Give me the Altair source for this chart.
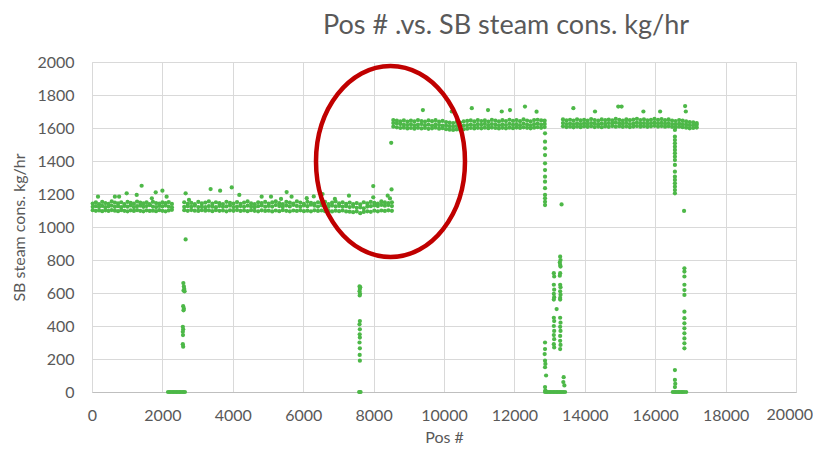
import altair as alt
import pandas as pd

# ---- data (pos #, steam kg/hr) ----
# band rows: (pos, lower dot, upper dot, top fringe dot)
band1 = [(20,1102,1122,1142),(110,1098,1126,1150),(200,1100,1121,1138),(290,1096,1128,1152),
         (380,1101,1120,1145),(470,1097,1125,1140),(560,1103,1130,1155),(650,1099,1122,1148),
         (740,1096,1126,1143),(830,1102,1120,1150),(920,1098,1128,1139),(1010,1095,1123,1152),
         (1100,1101,1131,1146),(1190,1097,1121,1141),(1280,1102,1126,1154),(1370,1098,1129,1147),
         (1460,1095,1122,1143),(1550,1101,1127,1150),(1640,1097,1132,1138),(1730,1099,1124,1153),
         (1820,1096,1121,1145),(1910,1102,1128,1141),(2000,1098,1125,1149),(2090,1095,1130,1144),
         (2180,1100,1123,1151),(2270,1104,1119,1140)]

band2 = [(2620,1102,1122,1150),(2720,1098,1126,1140),(2820,1103,1122,1146),(2920,1099,1129,1138),
         (3020,1097,1121,1152),(3120,1102,1124,1143),(3220,1099,1120,1148),(3320,1101,1127,1155),
         (3420,1096,1123,1141),(3520,1102,1120,1150),(3620,1098,1128,1144),(3720,1100,1122,1139),
         (3820,1095,1125,1153),(3920,1101,1130,1146),(4020,1098,1121,1142),(4120,1103,1124,1151),
         (4220,1097,1127,1140),(4320,1100,1122,1148),(4420,1096,1129,1155),(4520,1102,1125,1143),
         (4620,1098,1120,1138),(4720,1095,1126,1150),(4820,1101,1131,1145),(4920,1097,1123,1152),
         (5020,1099,1128,1141),(5120,1094,1124,1149),(5220,1100,1133,1156),(5320,1096,1127,1144),
         (5420,1102,1122,1139),(5520,1098,1130,1152),(5620,1095,1125,1147),(5720,1100,1134,1142),
         (5820,1097,1128,1155),(5920,1101,1123,1148),(6020,1096,1131,1140),(6120,1099,1126,1153),
         (6220,1095,1135,1146),(6320,1101,1129,1141),(6420,1097,1124,1150),(6520,1100,1132,1144),
         (6620,1096,1127,1152),(6720,1098,1122,1139),(6820,1094,1130,1147),(6920,1099,1125,1155),
         (7020,1096,1128,1143),(7120,1100,1123,1150),(7220,1094,1126,1140),(7320,1093,1121,1148),
         (7420,1090,1124,1138),(7520,1094,1116,1145),(7620,1084,1119,1137),(7720,1091,1113,1150),
         (7820,1095,1124,1143),(7920,1092,1126,1152),(8020,1099,1131,1146),(8120,1095,1127,1141),
         (8220,1100,1134,1155),(8320,1097,1129,1149),(8420,1101,1133,1144),(8520,1098,1127,1150)]

band3 = [(8560,1608,1630,1648),(8660,1604,1628,1645),(8760,1600,1624,1640),(8860,1602,1620,1646),
         (8960,1597,1618,1638),(9060,1600,1622,1644),(9160,1596,1616,1640),(9260,1601,1620,1648),
         (9360,1597,1624,1642),(9460,1600,1617,1639),(9560,1595,1620,1646),(9660,1598,1615,1641),
         (9760,1602,1622,1647),(9860,1596,1618,1638),(9960,1599,1614,1643),(10060,1593,1615,1636),
         (10160,1590,1611,1632),(10260,1588,1609,1630),(10360,1591,1612,1637),(10460,1589,1608,1633),
         (10560,1592,1614,1640),(10660,1596,1617,1643),(10760,1600,1621,1646),(10860,1597,1616,1640),
         (10960,1601,1623,1648),(11060,1598,1619,1642),(11160,1602,1625,1646),(11260,1599,1617,1639),
         (11360,1603,1624,1649),(11460,1600,1620,1644),(11560,1597,1616,1640),(11660,1601,1622,1647),
         (11760,1598,1618,1642),(11860,1602,1625,1650),(11960,1599,1619,1643),(12060,1603,1623,1648),
         (12160,1600,1617,1641),(12260,1604,1626,1652),(12360,1601,1620,1645),(12460,1598,1616,1640),
         (12560,1602,1623,1648),(12660,1605,1627,1650),(12760,1601,1621,1646),(12860,1606,1625,1644)]

band4 = [(13380,1610,1630,1652),(13480,1606,1624,1646),(13580,1608,1627,1650),(13680,1604,1622,1644),
         (13780,1609,1628,1653),(13880,1605,1623,1646),(13980,1610,1629,1650),(14080,1607,1625,1645),
         (14180,1611,1630,1654),(14280,1606,1626,1648),(14380,1609,1623,1644),(14480,1605,1628,1652),
         (14580,1610,1625,1647),(14680,1607,1630,1651),(14780,1612,1627,1646),(14880,1608,1632,1655),
         (14980,1611,1629,1650),(15080,1607,1626,1645),(15180,1610,1631,1653),(15280,1606,1624,1647),
         (15380,1609,1628,1651),(15480,1612,1632,1656),(15580,1608,1627,1648),(15680,1611,1630,1653),
         (15780,1607,1625,1646),(15880,1610,1629,1650),(15980,1613,1633,1655),(16080,1609,1628,1649),
         (16180,1612,1631,1654),(16280,1608,1626,1647),(16380,1611,1630,1652),(16480,1607,1624,1645),
         (16580,1604,1622,1642),(16680,1608,1626,1648),(16780,1605,1623,1644),(16880,1602,1620,1640),
         (16980,1598,1617,1636),(17080,1600,1616,1634),(17180,1603,1619,1630)]

outliers_low_band = [(170,1184),(650,1184),(770,1184),(985,1204),(1270,1194),(1410,1250),
                     (1700,1174),(1810,1210),(2000,1220),(2120,1184),(2660,1204),(2755,1164),
                     (3370,1230),(3640,1220),(3970,1240),(4185,1194),(4820,1184),(5085,1184),
                     (5370,1170),(5530,1212),(5670,1184),(6100,1175),(6300,1185),(6550,1200),
                     (6900,1170),(7300,1190),(7990,1248),(7990,1180),(8400,1190),(8510,1228),
                     (8465,1173),(2660,925),(8500,1510)]

outliers_high_band = [(9400,1709),(10220,1700),(10790,1720),(11250,1709),(11640,1700),(11875,1709),
                      (12300,1730),(12630,1699),(13675,1720),(14290,1700),(14950,1730),(15045,1730),
                      (15665,1700),(16140,1700),(16850,1733),(16870,1700)]

drop_2600 = [(2595,660),(2610,640),(2620,625),(2600,615),(2630,610),(2590,520),(2610,505),
             (2600,495),(2580,395),(2590,380),(2580,365),(2585,345),(2580,290),(2590,275)]

drop_7600 = [(7600,640),(7620,635),(7610,625),(7600,610),(7615,595),(7605,585),(7610,430),
             (7600,410),(7610,380),(7605,350),(7610,330),(7600,300),(7610,265),(7605,225),
             (7610,190)]

drop_12900 = [(12870,1568),(12870,1517),(12870,1477),(12870,1436),(12870,1386),(12870,1345),
              (12870,1305),(12870,1275),(12870,1235),(12870,1194),(12870,1174),(12870,1153),
              (12870,1133),(13340,1137),
              (13300,820),(13310,800),(13290,785),(13300,770),(13310,760),(13300,720),(13290,705),
              (13120,720),(13130,700),(13300,650),(13310,635),(13120,650),(13130,620),(13300,610),
              (13120,595),(13310,590),(13300,570),(13130,575),(13120,560),(13300,560),(13200,503),
              (13120,450),(13300,450),(13130,430),(13310,420),(13120,400),(13300,395),(13130,370),
              (13310,370),(13120,345),(13300,340),(13130,320),(13300,310),(13120,290),(13310,285),
              (13130,270),(13300,260),(12870,300),(12870,260),(12860,230),(12870,190),(12880,170),
              (12870,150),(12900,100),(12870,30),(12880,10),(13400,90),(13390,60),(13420,40)]

drop_16600 = [(16560,1588),(16560,1547),(16560,1527),(16560,1507),(16560,1487),(16560,1467),
              (16560,1447),(16560,1426),(16560,1406),(16560,1376),(16560,1335),(16560,1305),
              (16560,1285),(16560,1265),(16560,1244),(16560,1224),(16560,1204),(16820,1097),
              (16830,750),(16830,730),(16830,700),(16830,650),(16830,618),(16830,588),(16830,487),
              (16830,447),(16830,416),(16830,386),(16830,356),(16830,325),(16830,295),(16830,265),
              (16560,133),(16560,73),(16570,50),(16560,30)]

zeros_x = [2160,2200,2240,2280,2320,2360,2400,2440,2480,2520,2560,2600,2640,
           7590,7610,7630,
           12870,12910,12950,12990,13030,13070,13110,13150,13190,13230,13270,13310,13350,13390,13440,
           16500,16540,16580,16620,16660,16700,16740,16780,16820,16880]

x_ticks = [0, 2000, 4000, 6000, 8000, 10000, 12000, 14000, 16000, 18000, 20000]
y_ticks = [0, 200, 400, 600, 800, 1000, 1200, 1400, 1600, 1800, 2000]
edge_label = {"pos": [20000], "text": ["20000"]}

highlight = {"pos": [8480], "steam": [1397]}

# ---- build table ----
rows = []
for x, lo, hi, top in band1 + band2 + band3 + band4:
    rows.append((x, lo))
    rows.append((x, hi))
    rows.append((x, top))
for x, y in outliers_low_band + outliers_high_band + drop_2600 + drop_7600 + drop_12900 + drop_16600:
    rows.append((x, y))
for x in zeros_x:
    rows.append((x, 0))
df = pd.DataFrame(rows, columns=["pos", "steam"])

FONT = "Lato"
TXT = "#595959"

xscale = alt.Scale(domain=[0, 20000], nice=False, zero=False)
yscale = alt.Scale(domain=[0, 2000], nice=False)

xaxis = alt.Axis(values=x_ticks, title="Pos #", format="d", grid=True,
                 gridColor="#D9D9D9", domainColor="#BFBFBF", ticks=False,
                 labelPadding=15, titlePadding=6, labelFontSize=16, titleFontSize=16,
                 labelFont=FONT, titleFont=FONT, labelColor=TXT, titleColor=TXT,
                 titleFontWeight="normal", labelFlush=False, labelOverlap=False,
                 labelExpr="datum.value == 20000 ? '' : datum.label")
yaxis = alt.Axis(values=y_ticks, title="SB steam cons. kg/hr", format="d", grid=True,
                 gridColor="#D9D9D9", domain=False, ticks=False,
                 labelPadding=18, titlePadding=9, labelFontSize=16, titleFontSize=16,
                 labelFont=FONT, titleFont=FONT, labelColor=TXT, titleColor=TXT,
                 titleFontWeight="normal", labelOverlap=False)

points = alt.Chart(df).mark_circle(size=18, color="#4DB848", opacity=1).encode(
    x=alt.X("pos:Q", scale=xscale, axis=xaxis),
    y=alt.Y("steam:Q", scale=yscale, axis=yaxis),
)

ELLIPSE = ("M 0.78,0 C 0.78,0.5523 0.4308,1 0,1 C -0.4308,1 -0.78,0.5523 -0.78,0 "
           "C -0.78,-0.5523 -0.4308,-1 0,-1 C 0.4308,-1 0.78,-0.5523 0.78,0 Z")

ring = alt.Chart(pd.DataFrame(highlight)).mark_point(
    shape=ELLIPSE, size=36481, filled=False, stroke="#C00000", strokeWidth=4.5, opacity=1
).encode(x=alt.X("pos:Q", scale=xscale, axis=xaxis), y=alt.Y("steam:Q", scale=yscale, axis=yaxis))

# last x tick label, nudged so that it stays inside the page edge
last_label = alt.Chart(pd.DataFrame(edge_label)).mark_text(
    align="right", baseline="top", dx=17, dy=15, font=FONT, fontSize=16, color=TXT
).encode(x=alt.X("pos:Q", scale=xscale, axis=xaxis), y=alt.value(330), text="text:N")

chart = alt.layer(points, ring, last_label).properties(
    width=704, height=330,
    title=alt.Title("Pos # .vs. SB steam cons. kg/hr", fontSize=27, font=FONT, color=TXT,
                    fontWeight="normal", anchor="middle", dx=62, offset=14),
    autosize=alt.AutoSizeParams(type="none"),
    padding={"left": 84, "top": 54, "right": 17, "bottom": 56},
).configure_view(stroke=None).configure(background="white")

chart.save("out.html", embed_options={"renderer": "svg", "actions": False})
